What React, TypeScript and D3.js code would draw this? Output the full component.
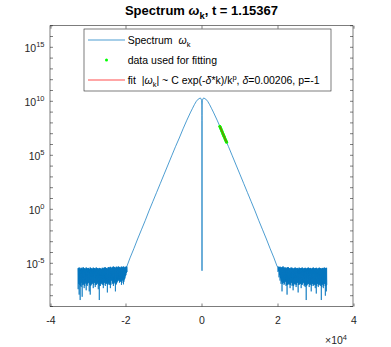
import React from "react";
import * as d3 from "d3";

// ---------- data ----------
const xTicks = [-4, -2, 0, 2, 4];
const yMajorExp = [-5, 0, 5, 10, 15];
const yMinorExp = d3.range(-9, 18);

// right-hand branch (k > 0), log10 |omega_k| (mirrored for k < 0)
const branchK = [1, 3, 10, 30, 100, 250, 500, 1000, 1500, 2000, 2500, 3000, 4000, 5000, 6000, 7000, 8000, 9000, 10000, 11000, 12000, 13000, 14000, 15000, 16000, 17000, 18000, 19000, 19850];
const branchLog = [8.2, 8.7, 9.2, 9.65, 10.05, 10.25, 10.3, 10.2, 10.0, 9.7, 9.35, 9.0, 8.25, 7.45, 6.6, 5.8, 4.95, 4.1, 3.25, 2.4, 1.55, 0.7, -0.15, -1.05, -1.9, -2.75, -3.65, -4.5, -5.3];
const centerLog = -5.69;

// noise floor columns, left side (k = -32768 .. -20000) and right side (k = 20000 .. 32767)
const leftHi = [-5.45, -5.4, -5.5, -5.42, -5.48, -5.38, -5.45, -5.5, -5.4, -5.47, -5.43, -5.52, -5.4, -5.46, -5.5, -5.41, -5.44, -5.49, -5.4, -5.45, -5.5, -5.43, -5.47, -5.52, -5.42, -5.46, -5.4, -5.38, -5.44, -5.48, -5.36, -5.4, -5.33, -5.42, -5.37, -5.3, -5.35, -5.41, -5.32, -5.38, -5.3, -5.35, -5.4, -5.31, -5.36, -5.3, -5.38, -5.33, -5.3];
const leftMid = [-6.9, -7.0, -7.1, -6.8, -7.0, -6.9, -7.1, -6.8, -7.0, -6.9, -6.8, -7.0, -7.1, -6.9, -6.8, -7.0, -6.8, -7.0, -6.9, -6.8, -7.0, -7.1, -6.9, -6.8, -6.9, -7.0, -6.8, -6.9, -6.8, -7.0, -6.8, -6.9, -7.0, -6.6, -6.8, -6.9, -6.7, -7.0, -6.8, -6.6, -6.5, -6.7, -6.6, -6.8, -6.5, -6.7, -6.4, -6.1, -5.8];
const leftLo = [-7.4, -7.9, -8.4, -7.2, -8.1, -7.0, -7.3, -6.9, -7.5, -7.1, -6.8, -7.6, -7.9, -7.0, -6.9, -7.3, -6.8, -7.2, -7.0, -6.9, -7.4, -8.4, -7.1, -6.9, -7.0, -7.3, -6.8, -7.1, -6.9, -7.7, -6.9, -7.0, -7.3, -6.6, -6.9, -7.1, -6.8, -7.6, -6.9, -6.7, -6.6, -6.8, -6.7, -7.0, -6.6, -6.95, -6.5, -6.2, -5.9];
const rightHi = [-5.3, -5.35, -5.32, -5.4, -5.36, -5.3, -5.42, -5.38, -5.45, -5.4, -5.35, -5.44, -5.48, -5.4, -5.42, -5.5, -5.45, -5.4, -5.47, -5.43, -5.5, -5.41, -5.46, -5.44, -5.4, -5.49, -5.45, -5.42, -5.5, -5.44, -5.4, -5.47, -5.43, -5.5, -5.45, -5.4, -5.48, -5.44, -5.42, -5.5, -5.46, -5.41, -5.45, -5.5, -5.43, -5.47, -5.4, -5.45, -5.42];
const rightMid = [-5.7, -6.1, -6.4, -6.7, -6.9, -6.8, -6.9, -6.7, -7.0, -7.0, -6.9, -6.9, -7.0, -6.8, -7.0, -7.1, -6.9, -6.9, -7.0, -6.8, -7.0, -6.9, -6.9, -7.0, -6.9, -6.8, -7.0, -7.0, -7.1, -6.9, -6.9, -7.0, -6.9, -7.1, -6.9, -7.0, -6.9, -7.0, -7.1, -6.9, -7.0, -6.9, -7.0, -7.2, -6.9, -7.1, -6.9, -7.1, -7.0];
const rightLo = [-5.8, -6.3, -6.6, -6.9, -7.6, -6.8, -7.0, -6.7, -7.1, -7.9, -6.9, -7.0, -7.3, -6.8, -7.1, -7.5, -6.9, -7.0, -7.2, -6.8, -7.7, -7.0, -6.9, -7.3, -7.0, -6.8, -7.1, -7.2, -8.4, -7.0, -6.9, -7.2, -7.0, -7.6, -6.9, -7.1, -7.0, -7.3, -7.8, -6.9, -7.2, -7.0, -7.1, -8.4, -7.0, -7.3, -6.9, -8.0, -7.6];

// data used for fitting, and the fit
const fitK = [4700, 4800, 4900, 5000, 5100, 5200, 5300, 5400, 5500, 5600, 5700, 5800, 5900, 6000, 6100, 6200, 6300, 6400, 6500];
const fitLog = [7.69, 7.61, 7.53, 7.45, 7.37, 7.28, 7.2, 7.11, 7.03, 6.94, 6.86, 6.77, 6.69, 6.6, 6.52, 6.44, 6.36, 6.28, 6.2];

// ---------- layout ----------
const W = 391, H = 347;
const L = 50, R = 353, T = 25.7, B = 306.5;
const FONT = "'Liberation Sans', Arial, Helvetica, sans-serif";
const BLUE = "#0072BD";
const AX = "#262626";

export default function App() {
  const x = d3.scaleLinear().domain([-40000, 40000]).range([L + 0.5, R + 0.5]);
  const y = d3.scaleLog().domain([1e-9, 1e17]).range([B, T]);
  const yE = (e: number) => y(Math.pow(10, e));

  const noise = (k0: number, k1: number, hi: number[], mid: number[], lo: number[]) => {
    const out: [number, number][] = [];
    const n = hi.length;
    const s = (k1 - k0) / (n - 1);
    for (let i = 0; i < n; i++) {
      const k = k0 + i * s;
      out.push([k, hi[i]]);
      out.push([k + s * 0.25, lo[i]]);
      out.push([k + s * 0.5, hi[i]]);
      out.push([k + s * 0.75, mid[i]]);
    }
    return out;
  };

  // build spectrum polyline
  const pts: [number, number][] = [];
  pts.push(...noise(-32768, -20000, leftHi, leftMid, leftLo));
  for (let i = branchK.length - 1; i >= 0; i--) pts.push([-branchK[i], branchLog[i]]);
  pts.push([0, centerLog]);
  for (let i = 0; i < branchK.length; i++) pts.push([branchK[i], branchLog[i]]);
  pts.push(...noise(20000, 32767, rightHi, rightMid, rightLo));

  const line = d3.line<[number, number]>().x((d) => x(d[0])).y((d) => yE(d[1]));
  const specPath = line(pts) || "";
  const fitPts: [number, number][] = fitK.map((k, i) => [k, fitLog[i]]);
  const fitPath = line(fitPts) || "";

  const tl = 3;

  return (
    <svg width={W} height={H} style={{ display: "block", position: "absolute", left: 0, top: 0 }} fontFamily={FONT}>
      <rect x={0} y={0} width={W} height={H} fill="#fff" />
      <defs>
        <clipPath id="ax">
          <rect x={L} y={T} width={R - L} height={B - T} />
        </clipPath>
      </defs>

      {/* title */}
      <text x={(L + R) / 2} y={15} textAnchor="middle" fontSize={13} fontWeight="bold" fill="#000">
        Spectrum <tspan fontStyle="italic">ω</tspan>
        <tspan fontSize={9.5} dy={3.5}>k</tspan>
        <tspan dy={-3.5}>, t = 1.15367</tspan>
      </text>

      {/* data */}
      <g clipPath="url(#ax)">
        <path d={specPath} fill="none" stroke={BLUE} strokeWidth={0.7} strokeLinejoin="round" />
        {fitPts.map((d, i) => (
          <circle key={i} cx={x(d[0])} cy={yE(d[1])} r={1.5} fill="#00ff00" />
        ))}
        <path d={fitPath} fill="none" stroke="#ff0000" strokeWidth={0.7} />
      </g>

      {/* axes box */}
      <rect x={L} y={T} width={R - L} height={B - T} fill="none" stroke={AX} strokeWidth={0.6} />

      {/* x ticks */}
      {xTicks.map((t) => {
        const px = Math.round(x(t * 1e4));
        return (
          <g key={"x" + t}>
            <line x1={px} x2={px} y1={B} y2={B - tl} stroke={AX} strokeWidth={0.6} />
            <line x1={px} x2={px} y1={T} y2={T + tl} stroke={AX} strokeWidth={0.6} />
            <text x={px} y={324} textAnchor="middle" fontSize={10.5} fill={AX}>
              {t < 0 ? "-" + Math.abs(t) : String(t)}
            </text>
          </g>
        );
      })}
      <text x={325} y={344} fontSize={10.5} fill={AX}>
        ×10<tspan fontSize={7.5} dy={-4.5}>4</tspan>
      </text>

      {/* y ticks */}
      {yMinorExp.map((e) => {
        const py = yE(e);
        return (
          <g key={"ym" + e}>
            <line x1={L} x2={L + tl} y1={py} y2={py} stroke={AX} strokeWidth={0.6} />
            <line x1={R} x2={R - tl} y1={py} y2={py} stroke={AX} strokeWidth={0.6} />
          </g>
        );
      })}
      {yMajorExp.map((e) => {
        const py = yE(e);
        return (
          <text key={"yl" + e} x={44.5} y={py + 5} textAnchor="end" fontSize={10.5} fill={AX}>
            10<tspan fontSize={7.5} dy={-5}>{e < 0 ? "-" + Math.abs(e) : String(e)}</tspan>
          </text>
        );
      })}

      {/* legend */}
      <rect x={84} y={29} width={247} height={62} fill="#fff" stroke={AX} strokeWidth={0.6} />
      <line x1={88} x2={125} y1={40} y2={40} stroke={BLUE} strokeWidth={0.7} />
      <text x={127.7} y={44} fontSize={10.5} fill="#000">
        Spectrum  <tspan dx={3} fontStyle="italic">ω</tspan>
        <tspan fontSize={7.5} dy={3}>k</tspan>
      </text>
      <circle cx={106.5} cy={60} r={1.5} fill="#00ff00" />
      <text x={127.7} y={64} fontSize={10.5} fill="#000">data used for fitting</text>
      <line x1={88} x2={125} y1={80} y2={80} stroke="#ff0000" strokeWidth={0.7} />
      <text x={127.7} y={84} fontSize={10.5} fill="#000">
        fit  <tspan dx={3}>|</tspan><tspan fontStyle="italic">ω</tspan>
        <tspan fontSize={7.5} dy={3}>k</tspan>
        <tspan dy={-3}>| ~ C exp(-</tspan><tspan fontStyle="italic">δ</tspan>
        <tspan>*k)/k</tspan>
        <tspan fontSize={7.5} dy={-4}>p</tspan>
        <tspan dy={4}>, </tspan><tspan fontStyle="italic">δ</tspan>
        <tspan>=0.00206, p=-1</tspan>
      </text>
    </svg>
  );
}
